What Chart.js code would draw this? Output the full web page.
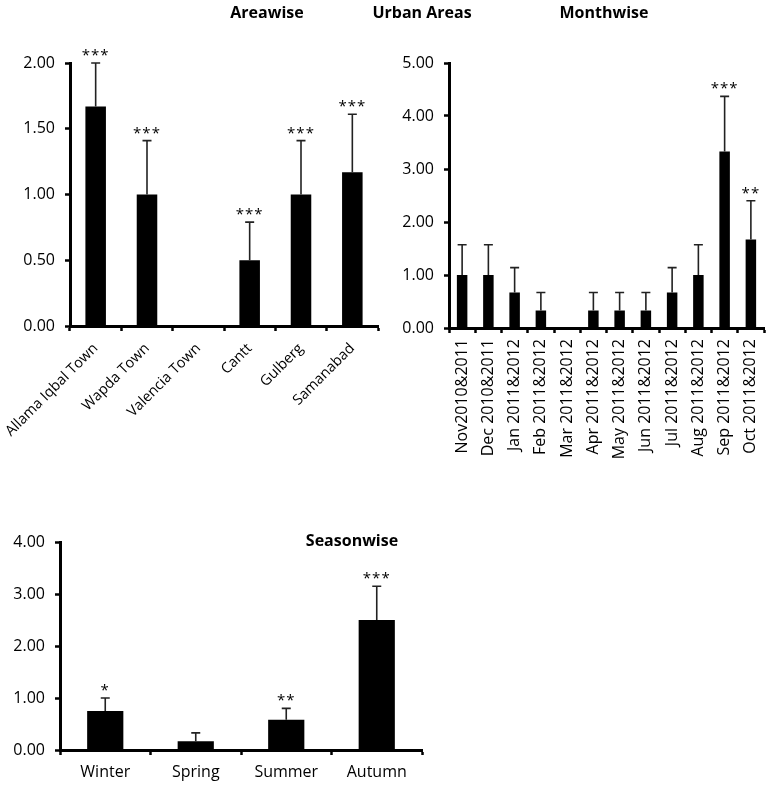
<!DOCTYPE html>
<html>
<head>
<meta charset="utf-8">
<script src="https://cdn.jsdelivr.net/npm/chart.js@4.4.0/dist/chart.umd.min.js"></script>
<style>
  body { margin: 0; background: #fff; }
  #page { position: relative; width: 768px; height: 785px; overflow: hidden; }
  .box { position: absolute; }
  .ttl { position: absolute; font: bold 16px 'Open Sans', sans-serif; color: #000; transform: translate(-50%, -50%); white-space: nowrap; }
</style>
</head>
<body>
<div id="page">
  <div class="box" style="left:0;top:0;width:384px;height:480px"><canvas id="areaChart"></canvas></div>
  <div class="box" style="left:384px;top:0;width:384px;height:480px"><canvas id="monthChart"></canvas></div>
  <div class="box" style="left:0;top:500px;width:440px;height:285px"><canvas id="seasonChart"></canvas></div>
  <div class="ttl" style="left:267px;top:12px">Areawise</div>
  <div class="ttl" style="left:422px;top:12px">Urban Areas</div>
  <div class="ttl" style="left:604px;top:12px">Monthwise</div>
  <div class="ttl" style="left:352px;top:540px">Seasonwise</div>
</div>
<script>
const areaLabels = ['Allama Iqbal Town', 'Wapda Town', 'Valencia Town', 'Cantt', 'Gulberg', 'Samanabad'];
const areaValues = [1.67, 1.00, 0, 0.50, 1.00, 1.17];
const areaErrTop = [2.00, 1.41, 0, 0.79, 1.41, 1.61];
const areaStars = ['***', '***', '', '***', '***', '***'];

const monthLabels = ['Nov2010&2011', 'Dec 2010&2011', 'Jan 2011&2012', 'Feb 2011&2012', 'Mar 2011&2012', 'Apr 2011&2012',
  'May 2011&2012', 'Jun 2011&2012', 'Jul 2011&2012', 'Aug 2011&2012', 'Sep 2011&2012', 'Oct 2011&2012'];
const monthValues = [1.00, 1.00, 0.67, 0.33, 0, 0.33, 0.33, 0.33, 0.67, 1.00, 3.33, 1.67];
const monthErrTop = [1.57, 1.57, 1.14, 0.67, 0, 0.67, 0.67, 0.67, 1.14, 1.57, 4.37, 2.40];
const monthStars = ['', '', '', '', '', '', '', '', '', '', '***', '**'];

const seasonLabels = ['Winter', 'Spring', 'Summer', 'Autumn'];
const seasonValues = [0.75, 0.17, 0.58, 2.50];
const seasonErrTop = [1.00, 0.33, 0.80, 3.15];
const seasonStars = ['*', '', '**', '***'];

Chart.defaults.font.family = "'Open Sans', sans-serif";
Chart.defaults.font.size = 16;
Chart.defaults.color = '#000';
Chart.defaults.animation = false;

// one-sided error bars plus the significance stars
const errorBars = {
  id: 'errorBars',
  afterDatasetsDraw(chart, args, opts) {
    const ctx = chart.ctx;
    const y = chart.scales.y;
    const bars = chart.getDatasetMeta(0).data;
    ctx.save();
    bars.forEach((bar, i) => {
      const top = opts.err[i];
      if (top > 0) {
        const yTop = y.getPixelForValue(top);
        ctx.strokeStyle = '#222';
        ctx.lineWidth = 1.6;
        ctx.beginPath();
        ctx.moveTo(bar.x, bar.y);
        ctx.lineTo(bar.x, yTop);
        ctx.moveTo(bar.x - 4.5, yTop);
        ctx.lineTo(bar.x + 4.5, yTop);
        ctx.stroke();
      }
      if (opts.stars[i]) {
        ctx.fillStyle = '#000';
        ctx.font = "15px 'Open Sans', sans-serif";
        ctx.letterSpacing = '1px';
        ctx.textAlign = 'center';
        ctx.textBaseline = 'alphabetic';
        ctx.fillText(opts.stars[i], bar.x, y.getPixelForValue(top) - 3);
      }
    });
    ctx.restore();
  }
};

function makeChart(id, labels, values, err, stars, cfg) {
  return new Chart(document.getElementById(id), {
    type: 'bar',
    data: {
      labels: labels,
      datasets: [{
        data: values,
        backgroundColor: '#000',
        borderWidth: 0,
        categoryPercentage: 1,
        barPercentage: 0.4
      }]
    },
    options: {
      responsive: true,
      maintainAspectRatio: false,
      layout: { padding: { top: cfg.top, right: cfg.right, left: 0, bottom: 0 } },
      plugins: {
        legend: { display: false },
        tooltip: { enabled: false },
        errorBars: { err: err, stars: stars }
      },
      scales: {
        x: {
          // keep rotated labels from pushing the plot area around
          afterFit: (s) => { s.height = cfg.xHeight; s.paddingLeft = 0; s.paddingRight = 0; },
          grid: { drawOnChartArea: false, drawTicks: true, tickLength: 5, tickWidth: 2.5, tickColor: '#000' },
          border: { color: '#000', width: 3 },
          ticks: { autoSkip: false, minRotation: cfg.rot, maxRotation: cfg.rot, padding: cfg.xPad, font: { size: cfg.xFont } }
        },
        y: {
          min: 0,
          max: cfg.max,
          afterFit: (s) => { s.width = cfg.yWidth; s.paddingTop = 0; s.paddingBottom = 0; },
          grid: { drawOnChartArea: false, drawTicks: true, tickLength: 5, tickWidth: 2.5, tickColor: '#000' },
          border: { color: '#000', width: 3 },
          ticks: { stepSize: cfg.step, padding: 10, callback: (v) => v.toFixed(2) }
        }
      }
    },
    plugins: [errorBars]
  });
}

makeChart('areaChart', areaLabels, areaValues, areaErrTop, areaStars,
  { top: 63, right: 6, xHeight: 154, yWidth: 70, max: 2, step: 0.5, rot: 45, xPad: 9, xFont: 14.5 });
makeChart('monthChart', monthLabels, monthValues, monthErrTop, monthStars,
  { top: 63, right: 4, xHeight: 152, yWidth: 65, max: 5, step: 1, rot: 90, xPad: 6, xFont: 16 });
makeChart('seasonChart', seasonLabels, seasonValues, seasonErrTop, seasonStars,
  { top: 42, right: 18, xHeight: 35, yWidth: 60, max: 4, step: 1, rot: 0, xPad: 8, xFont: 16 });
</script>
</body>
</html>
